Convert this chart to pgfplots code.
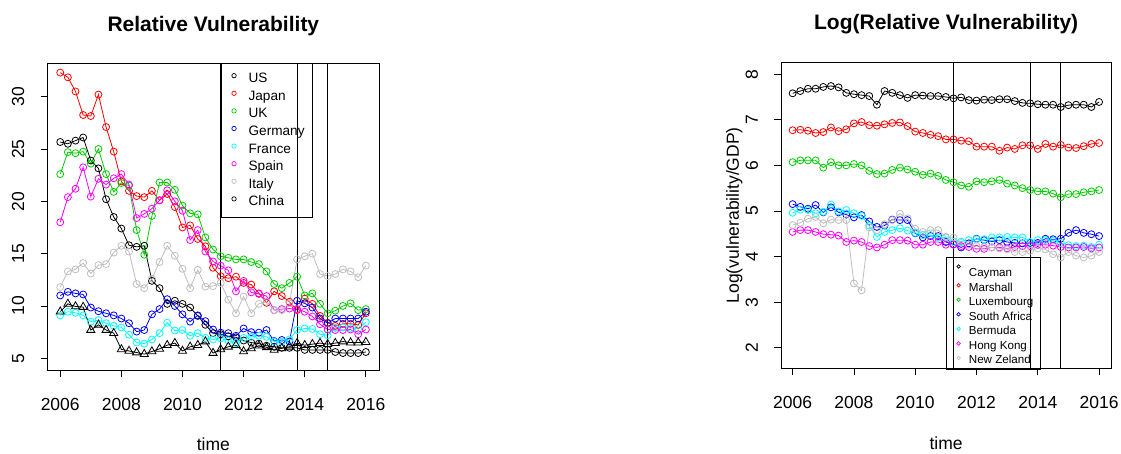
\documentclass[border=0pt]{standalone}
\usepackage{fontspec}
\setmainfont{Liberation Sans}
\usepackage{pgfplots}
\usepackage{pgfplotstable}
\pgfplotsset{compat=1.18}
\definecolor{rred}{HTML}{FF0000}
\definecolor{rgreen}{HTML}{00CD00}
\definecolor{rblue}{HTML}{0000FF}
\definecolor{rcyan}{HTML}{00FFFF}
\definecolor{rmag}{HTML}{FF00FF}
\definecolor{rgray}{HTML}{BEBEBE}

\pgfplotstableread{
t US JP UK DE FR ES IT CN
2006.00 25.67 32.3 22.6 11.0 9.1 18.0 11.8 9.45
2006.25 25.5 31.85 24.7 11.35 9.45 20.4 13.3 10.2
2006.50 25.8 30.5 24.6 11.2 9.35 21.2 13.5 9.95
2006.75 26.1 28.25 24.75 11.1 9.1 23.25 14.1 9.9
2007.00 23.9 28.15 23.6 9.85 8.5 20.45 13.1 7.7
2007.25 23.15 30.2 25.0 9.5 8.65 22.15 13.9 8.2
2007.50 20.2 27.1 22.6 9.3 8.35 21.6 14.0 7.7
2007.75 18.5 24.75 20.9 9.1 8.1 22.2 15.1 7.4
2008.00 17.4 21.9 21.75 8.8 7.95 22.6 15.75 5.85
2008.25 15.8 21.0 21.5 8.35 7.25 21.6 15.2 5.7
2008.50 15.65 20.5 17.25 7.55 6.5 18.4 12.1 5.55
2008.75 15.75 20.4 14.9 7.7 6.4 18.8 11.7 5.4
2009.00 12.4 21.0 18.6 9.2 6.8 19.3 12.6 5.65
2009.25 11.7 20.1 21.8 9.7 7.4 20.1 14.2 5.9
2009.50 10.2 20.7 21.8 10.65 8.4 21.05 15.75 6.25
2009.75 10.5 19.45 21.1 10.0 7.65 20.0 14.8 6.45
2010.00 10.2 17.5 19.6 9.2 7.7 19.1 13.55 5.7
2010.25 9.85 17.7 18.85 8.5 7.15 16.3 11.7 6.1
2010.50 9.05 16.4 18.75 9.1 7.4 17.25 13.45 6.25
2010.75 8.2 15.7 16.55 8.55 6.95 15.2 11.85 6.6
2011.00 7.4 13.65 15.4 7.75 6.8 14.25 11.9 5.5
2011.25 7.3 12.85 14.75 7.45 6.9 13.85 12.2 5.85
2011.50 7.1 12.65 14.6 7.4 6.7 13.4 10.6 6.1
2011.75 7.0 12.8 14.45 7.15 6.45 11.4 9.3 6.25
2012.00 6.7 12.2 14.45 7.85 6.95 12.4 10.9 5.65
2012.25 6.5 12.05 14.2 7.5 7.05 11.3 9.3 5.95
2012.50 6.4 11.2 14.0 7.45 7.15 11.15 10.2 6.2
2012.75 6.2 10.3 13.3 7.7 7.05 10.95 10.4 6.05
2013.00 6.1 11.4 12.1 6.65 6.6 9.6 9.6 5.8
2013.25 6.0 10.95 11.7 6.75 6.6 9.7 9.6 5.95
2013.50 6.0 10.4 12.2 6.6 6.8 9.75 10.25 6.1
2013.75 6.0 9.6 12.8 10.5 7.7 9.7 14.45 6.45
2014.00 5.8 10.7 11.0 10.25 7.85 9.45 14.75 6.25
2014.25 5.8 10.2 11.2 9.85 7.8 9.0 15.0 6.35
2014.50 5.8 9.05 10.2 8.8 7.3 8.25 13.05 6.45
2014.75 5.8 8.4 9.3 8.35 7.2 7.75 12.85 6.35
2015.00 5.6 8.1 9.55 8.8 7.9 7.7 13.05 6.45
2015.25 5.5 8.3 10.0 8.8 7.95 7.7 13.5 6.6
2015.50 5.5 8.3 10.25 8.8 7.9 7.75 13.3 6.5
2015.75 5.5 8.2 9.6 8.8 7.8 7.3 12.75 6.5
2016.00 5.6 9.3 9.7 9.45 8.45 7.75 13.85 6.55
}\lefttab

\pgfplotstableread{
t CAY MAR LUX SA BER HK NZ
2006.00 7.58 6.77 6.07 5.15 4.96 4.54 4.69
2006.25 7.63 6.78 6.11 5.09 5.03 4.58 4.74
2006.50 7.68 6.76 6.11 5.05 5.02 4.58 4.83
2006.75 7.68 6.71 6.11 5.13 4.95 4.54 4.87
2007.00 7.72 6.73 5.95 4.97 4.98 4.49 4.73
2007.25 7.74 6.83 6.07 5.08 5.14 4.48 4.81
2007.50 7.71 6.75 6.00 4.97 4.99 4.46 4.80
2007.75 7.59 6.79 6.00 4.92 5.02 4.32 4.80
2008.00 7.56 6.92 6.03 4.86 4.95 4.35 3.41
2008.25 7.54 6.95 6.00 4.91 4.89 4.32 3.26
2008.50 7.52 6.88 5.88 4.77 4.68 4.23 4.64
2008.75 7.33 6.87 5.81 4.65 4.43 4.20 4.58
2009.00 7.63 6.90 5.82 4.68 4.54 4.26 4.71
2009.25 7.59 6.93 5.90 4.81 4.58 4.36 4.80
2009.50 7.54 6.94 5.95 4.80 4.62 4.36 4.94
2009.75 7.48 6.86 5.91 4.80 4.57 4.35 4.84
2010.00 7.54 6.74 5.86 4.51 4.52 4.26 4.61
2010.25 7.53 6.71 5.79 4.42 4.47 4.26 4.54
2010.50 7.52 6.67 5.82 4.45 4.47 4.32 4.58
2010.75 7.52 6.64 5.77 4.45 4.42 4.32 4.58
2011.00 7.50 6.57 5.68 4.32 4.42 4.26 4.43
2011.25 7.47 6.57 5.63 4.27 4.32 4.26 4.42
2011.50 7.49 6.54 5.56 4.20 4.33 4.23 4.30
2011.75 7.43 6.53 5.53 4.29 4.36 4.21 4.26
2012.00 7.42 6.41 5.65 4.39 4.38 4.17 4.23
2012.25 7.44 6.41 5.63 4.36 4.38 4.17 4.21
2012.50 7.43 6.41 5.65 4.33 4.42 4.20 4.20
2012.75 7.45 6.32 5.68 4.36 4.42 4.20 4.18
2013.00 7.45 6.39 5.60 4.32 4.43 4.18 4.16
2013.25 7.41 6.36 5.56 4.30 4.42 4.21 4.10
2013.50 7.37 6.44 5.50 4.29 4.42 4.23 4.10
2013.75 7.36 6.44 5.46 4.30 4.32 4.23 4.13
2014.00 7.34 6.36 5.43 4.30 4.36 4.26 4.18
2014.25 7.33 6.47 5.43 4.39 4.36 4.26 4.16
2014.50 7.33 6.41 5.38 4.38 4.35 4.24 4.05
2014.75 7.28 6.45 5.30 4.39 4.30 4.21 3.98
2015.00 7.32 6.39 5.37 4.52 4.25 4.20 4.10
2015.25 7.33 6.38 5.37 4.58 4.23 4.20 4.02
2015.50 7.33 6.42 5.41 4.52 4.24 4.21 3.98
2015.75 7.28 6.47 5.43 4.49 4.21 4.18 4.02
2016.00 7.39 6.49 5.46 4.45 4.26 4.20 4.10
}\righttab

\pgfplotsset{
  rbase/.style={
    scale only axis,
    anchor=south west,
    axis line style={line width=0.8pt},
    tick align=outside,
    tick pos=left,
    major tick length=7pt,
    tick style={line width=0.8pt, black},
    xtick={2006,2008,...,2016},
    /pgf/number format/1000 sep={},
    /pgf/number format/assume math mode=true,
    tick label style={font=\fontsize{17.5}{20}\selectfont},
    xticklabel style={anchor=base, yshift=-33pt},
    yticklabel style={xshift=-16.5pt, rotate=90, anchor=base},
    xlabel={time},
    every axis x label/.style={at={(axis description cs:0.5,0)}, anchor=base, yshift=-80.7pt, font=\fontsize{17.5}{20}\selectfont},
    title style={font=\bfseries\fontsize{21}{25}\selectfont, at={(0.5,1)}, anchor=base},
    legend cell align=left,
    every axis plot/.append style={line width=0.8pt, mark options={solid}},
  },
  c/.style={mark=o, mark size=3.5pt},
}

\begin{document}
\begin{tikzpicture}
\path[use as bounding box] (0,0) rectangle (1121pt,453pt);

\begin{axis}[rbase,
  at={(47.7pt,83pt)}, width=331.3pt, height=306.7pt,
  xmin=2005.59, xmax=2016.43, ymin=3.88, ymax=33.19,
  ytick={5,10,...,30},
  title={Relative Vulnerability},
  title style={yshift=25.6pt},
  legend image code/.code={\path (-5.2pt,3.5pt); \draw[#1] plot coordinates {(0pt,3.5pt)};},
  legend style={at={(axis cs:2011.25,33.19)}, anchor=north west, draw=black, fill=none,
    line width=0.8pt, font=\fontsize{13.6}{16}\selectfont,
    inner xsep=7.4pt, inner ysep=9pt, row sep=4.6pt, column sep=12.4pt,
    nodes={inner sep=0pt, text height=10pt, text depth=3pt}},
]
\addplot[black, c, forget plot] table[x=t, y=US] {\lefttab};
\addplot[rred, c, forget plot] table[x=t, y=JP] {\lefttab};
\addplot[rgreen, c, forget plot] table[x=t, y=UK] {\lefttab};
\addplot[rblue, c, forget plot] table[x=t, y=DE] {\lefttab};
\addplot[rcyan, c, forget plot] table[x=t, y=FR] {\lefttab};
\addplot[rmag, c, forget plot] table[x=t, y=ES] {\lefttab};
\addplot[rgray, c, forget plot] table[x=t, y=IT] {\lefttab};
\addplot[black, mark=triangle, mark size=4.7pt, forget plot] table[x=t, y=CN] {\lefttab};
\addplot[black, forget plot] coordinates {(2011.25,0) (2011.25,40)};
\addplot[black, forget plot] coordinates {(2013.75,0) (2013.75,40)};
\addplot[black, forget plot] coordinates {(2014.75,0) (2014.75,40)};
\addlegendimage{only marks, mark=o, mark size=2.2pt, line width=0.7pt, black}
\addlegendentry{US}
\addlegendimage{only marks, mark=o, mark size=2.2pt, line width=0.7pt, rred}
\addlegendentry{Japan}
\addlegendimage{only marks, mark=o, mark size=2.2pt, line width=0.7pt, rgreen}
\addlegendentry{UK}
\addlegendimage{only marks, mark=o, mark size=2.2pt, line width=0.7pt, rblue}
\addlegendentry{Germany}
\addlegendimage{only marks, mark=o, mark size=2.2pt, line width=0.7pt, rcyan}
\addlegendentry{France}
\addlegendimage{only marks, mark=o, mark size=2.2pt, line width=0.7pt, rmag}
\addlegendentry{Spain}
\addlegendimage{only marks, mark=o, mark size=2.2pt, line width=0.7pt, rgray}
\addlegendentry{Italy}
\addlegendimage{only marks, mark=o, mark size=2.2pt, line width=0.7pt, black}
\addlegendentry{China}
\end{axis}

\begin{axis}[rbase,
  at={(781.3pt,84.7pt)}, width=329.7pt, height=306pt,
  xmin=2005.63, xmax=2016.39, ymin=1.55, ymax=8.26,
  ytick={2,3,...,8},
  title={Log(Relative Vulnerability)},
  title style={yshift=26.3pt},
  ylabel={Log(vulnerability/GDP)},
  every axis y label/.style={at={(axis description cs:0,0.5)}, xshift=-42.5pt, rotate=90, anchor=base, font=\fontsize{17.5}{20}\selectfont},
  legend image code/.code={\path (-5.4pt,3pt); \draw[#1] plot coordinates {(0pt,3pt)};},
  legend style={at={(axis cs:2011,4)}, anchor=north west, draw=black, fill=none,
    line width=0.8pt, font=\fontsize{11.6}{14}\selectfont,
    inner xsep=6.6pt, inner ysep=2.8pt, row sep=3.55pt, column sep=8.5pt,
    nodes={inner sep=0pt, text height=8.5pt, text depth=2.5pt}},
]
\addplot[black, c, forget plot] table[x=t, y=CAY] {\righttab};
\addplot[rred, c, forget plot] table[x=t, y=MAR] {\righttab};
\addplot[rgreen, c, forget plot] table[x=t, y=LUX] {\righttab};
\addplot[rblue, c, forget plot] table[x=t, y=SA] {\righttab};
\addplot[rcyan, c, forget plot] table[x=t, y=BER] {\righttab};
\addplot[rmag, c, forget plot] table[x=t, y=HK] {\righttab};
\addplot[rgray, c, forget plot] table[x=t, y=NZ] {\righttab};
\addplot[black, forget plot] coordinates {(2011.25,0) (2011.25,10)};
\addplot[black, forget plot] coordinates {(2013.75,0) (2013.75,10)};
\addplot[black, forget plot] coordinates {(2014.75,0) (2014.75,10)};
\addlegendimage{only marks, mark=o, mark size=1.8pt, line width=0.7pt, black}
\addlegendentry[text height=16.9pt]{Cayman}
\addlegendimage{only marks, mark=o, mark size=1.8pt, line width=0.7pt, rred}
\addlegendentry{Marshall}
\addlegendimage{only marks, mark=o, mark size=1.8pt, line width=0.7pt, rgreen}
\addlegendentry{Luxembourg}
\addlegendimage{only marks, mark=o, mark size=1.8pt, line width=0.7pt, rblue}
\addlegendentry{South Africa}
\addlegendimage{only marks, mark=o, mark size=1.8pt, line width=0.7pt, rcyan}
\addlegendentry{Bermuda}
\addlegendimage{only marks, mark=o, mark size=1.8pt, line width=0.7pt, rmag}
\addlegendentry{Hong Kong}
\addlegendimage{only marks, mark=o, mark size=1.8pt, line width=0.7pt, rgray}
\addlegendentry{New Zeland}
\end{axis}
\end{tikzpicture}
\end{document}
